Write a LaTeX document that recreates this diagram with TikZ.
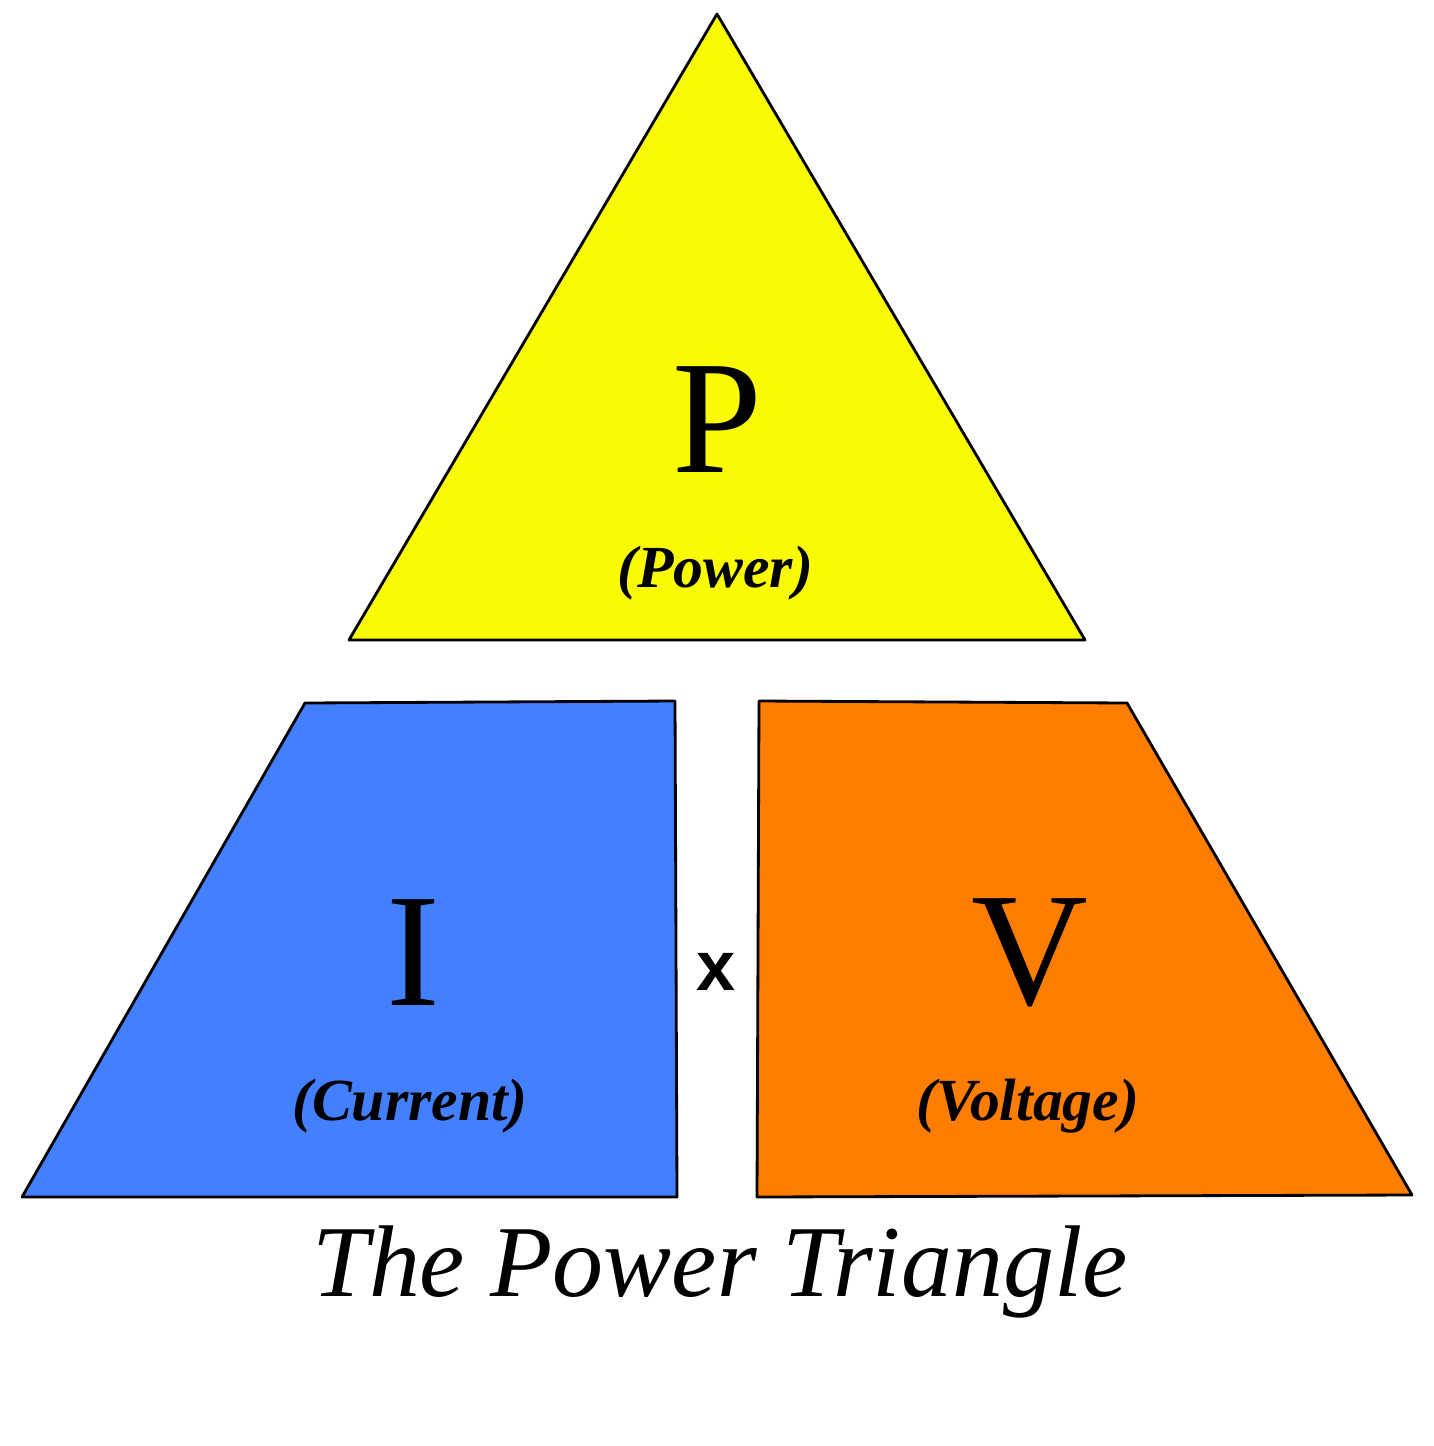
\documentclass[tikz,border=0pt]{standalone}
\usepackage{fontspec}
\setmainfont{Liberation Serif}
\newfontfamily\xfont{Liberation Sans}
\usetikzlibrary{positioning}
\definecolor{pyellow}{RGB}{250,250,5}
\definecolor{iblue}{RGB}{66,128,255}
\definecolor{vorange}{RGB}{255,125,0}
\begin{document}
\begin{tikzpicture}[x=0.02cm,y=-0.02cm,
    part/.style={draw=black,line width=1.6pt,line join=round},
    big/.style={font=\fontsize{92}{92}\selectfont},
    sub/.style={font=\fontsize{34}{34}\selectfont\bfseries\itshape}]
    \useasboundingbox (0,0) rectangle (1433,1446);
    % the three parts
    \draw[part,fill=pyellow] (717,14) -- (1085,640) -- (349,640) -- cycle;
    \draw[part,fill=iblue] (305,703) -- (675,701) -- (677,1197) -- (22,1197) -- cycle;
    \draw[part,fill=vorange] (759,701) -- (1127,703) -- (1412,1195) -- (757,1197) -- cycle;
    % letters
    \node[big] (P) at (717,420) {P};
    \node[sub] (power) at (715,573) {(Power)};
    \node[big] (I) at (413,953) {I};
    \node[sub] (current) at (410,1106) {(Current)};
    \node[big] (V) at (1030,953) {V};
    \node[sub] (voltage) at (1028,1106) {(Voltage)};
    \node[font=\xfont\fontsize{40}{40}\selectfont\bfseries] (times) at (716,972) {x};
    \node[font=\fontsize{58}{58}\selectfont\itshape] (title) at (720,1272) {The Power Triangle};
\end{tikzpicture}
\end{document}
